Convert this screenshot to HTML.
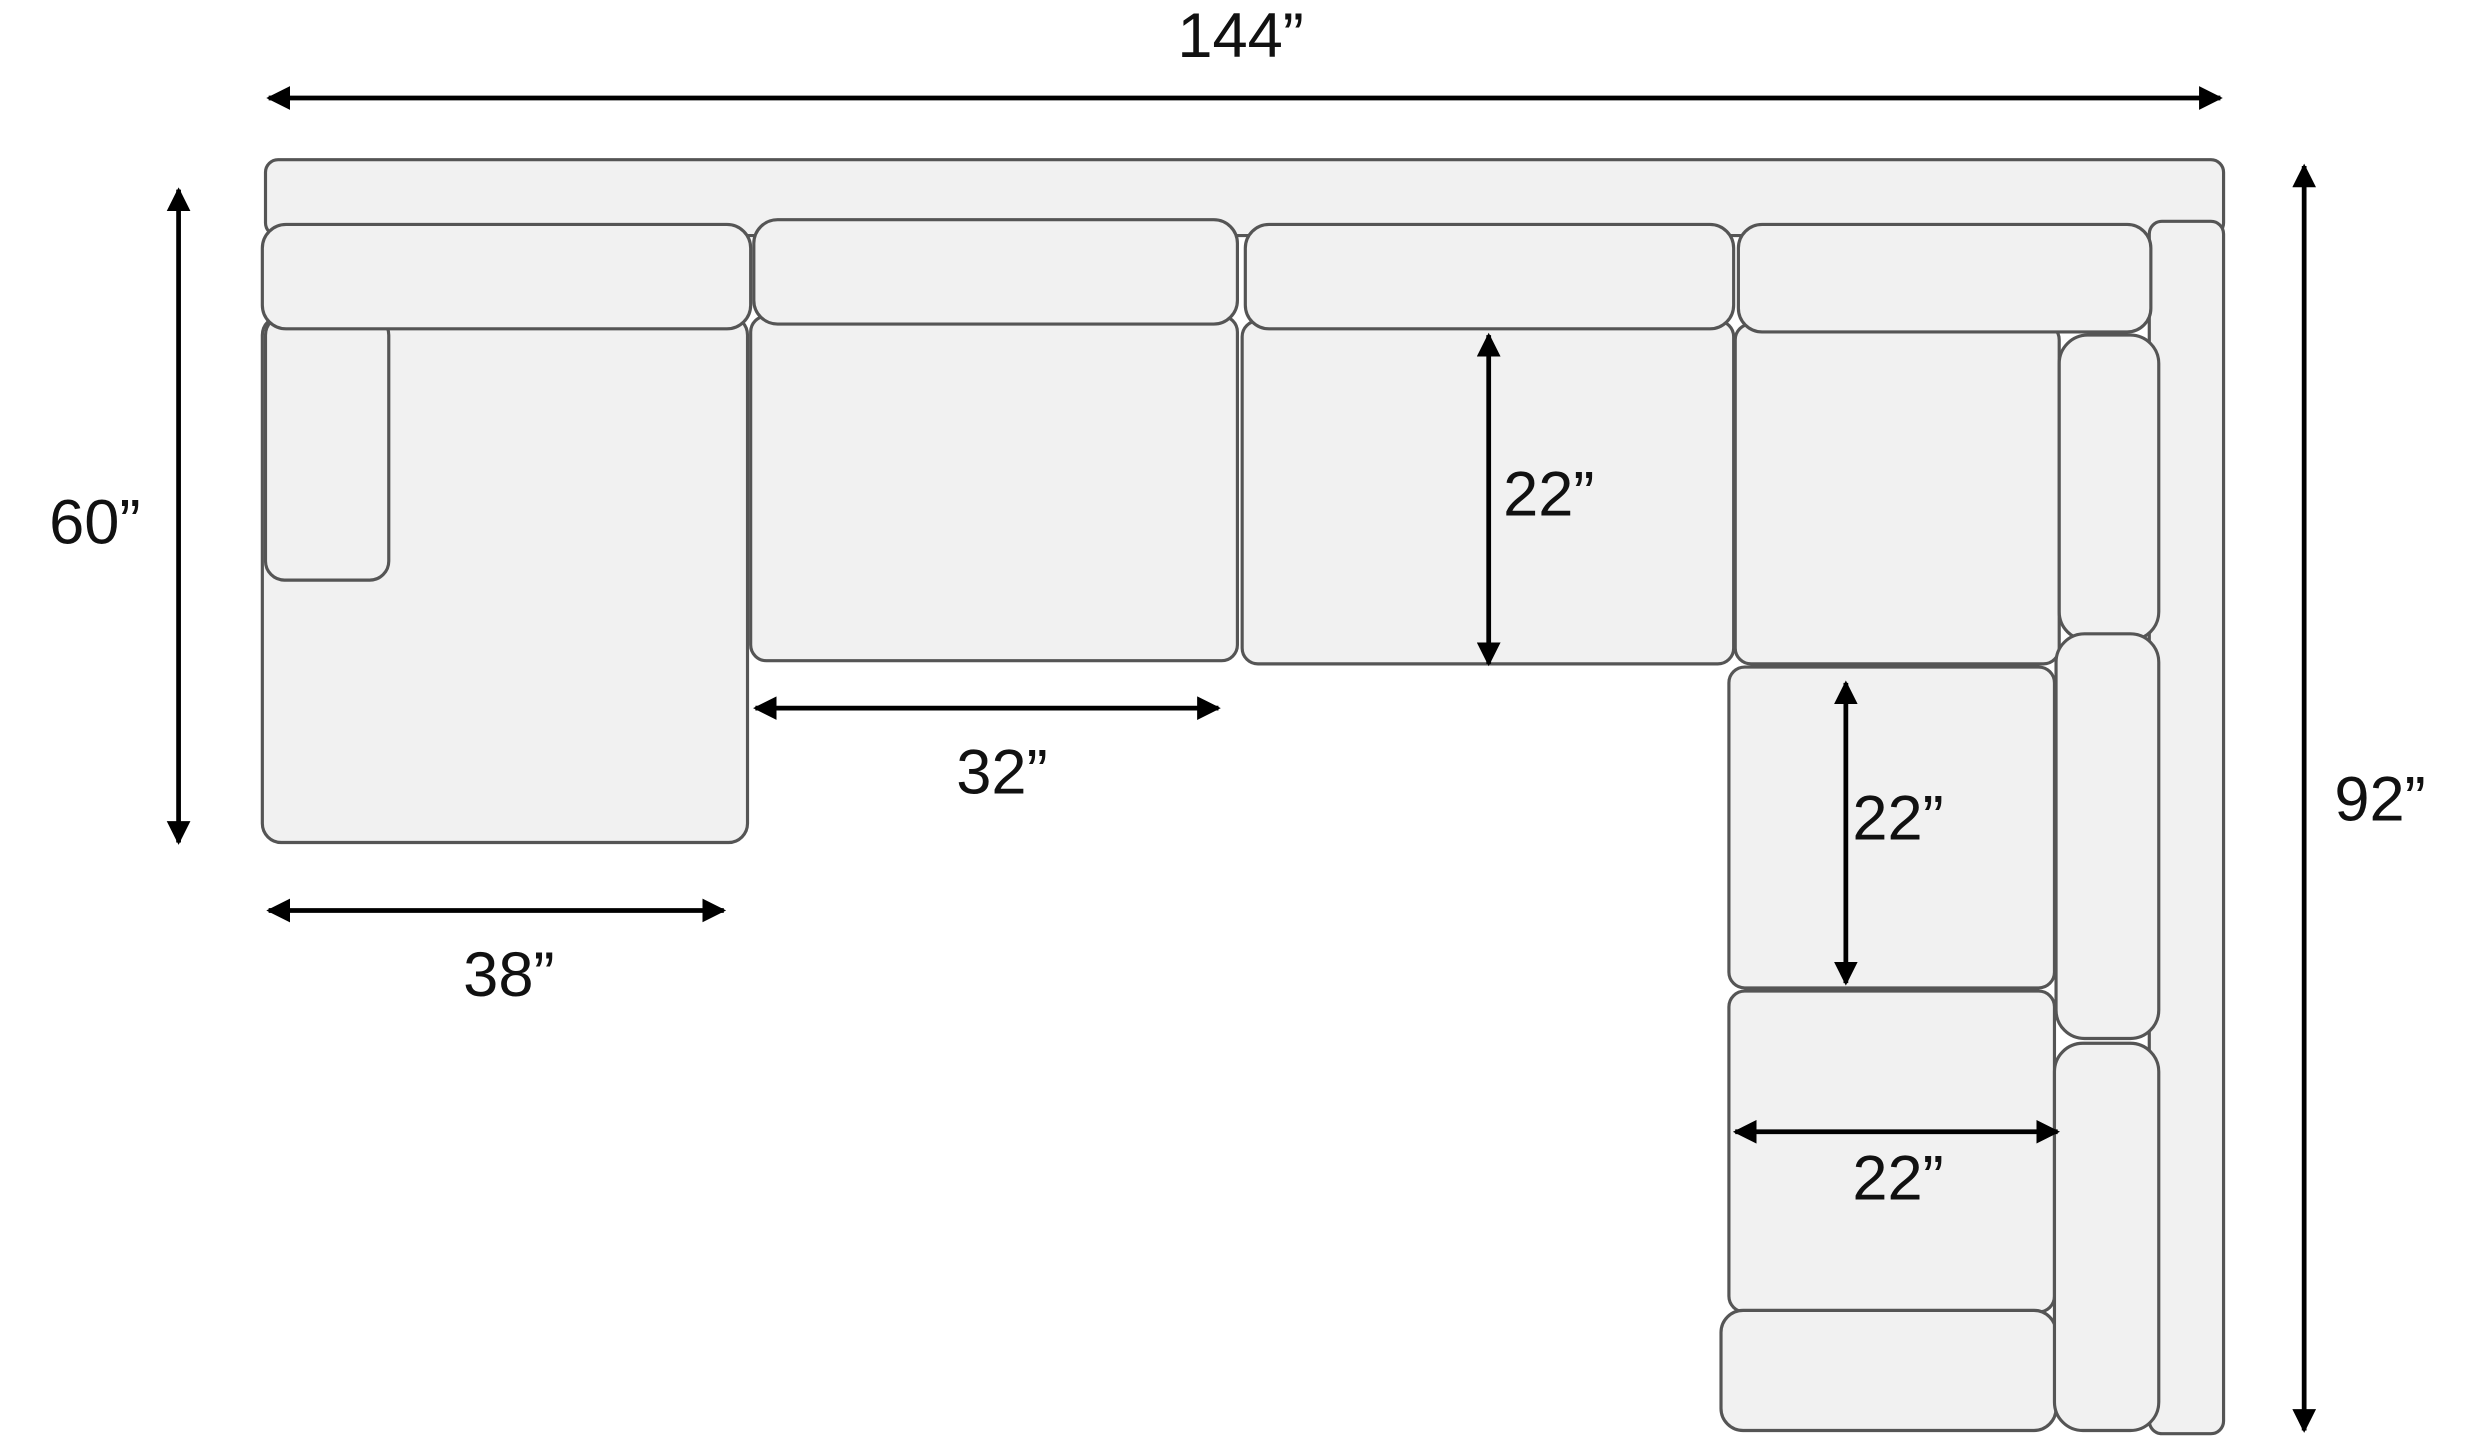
<!DOCTYPE html>
<html><head><meta charset="utf-8"><style>
html,body{margin:0;padding:0;background:#fff;}
svg{display:block;}
text{font-family:"Liberation Sans",sans-serif;font-size:40px;fill:#111;text-anchor:middle;}
</style></head><body>
<svg width="2478" height="1440" viewBox="0 0 1568 911" preserveAspectRatio="none" xmlns="http://www.w3.org/2000/svg">
<defs>
<marker id="a" viewBox="0 0 10 10" refX="9" refY="5" markerWidth="5" markerHeight="5" orient="auto-start-reverse"><path d="M0,0 L10,5 L0,10 z" fill="#000"/></marker>
</defs>
<g fill="#f1f1f1" stroke="#555" stroke-width="2">
<rect x="168" y="101" width="1239" height="48" rx="8"/>
<rect x="1360" y="140" width="47" height="767" rx="8"/>
<rect x="166" y="200" width="307" height="333" rx="12"/>
<rect x="168" y="200" width="78" height="167" rx="12"/>
<rect x="475" y="200" width="308" height="218" rx="10"/>
<rect x="786" y="203" width="311" height="217" rx="10"/>
<rect x="1098" y="205" width="205" height="215" rx="10"/>
<rect x="1094" y="422" width="206" height="203" rx="10"/>
<rect x="1094" y="627" width="206" height="203" rx="10"/>
<rect x="1089" y="829" width="212" height="76" rx="14"/>
<rect x="166" y="142" width="309" height="66" rx="15"/>
<rect x="477" y="139" width="306" height="66" rx="15"/>
<rect x="788" y="142" width="309" height="66" rx="15"/>
<rect x="1100" y="142" width="261" height="68" rx="15"/>
<rect x="1303" y="212" width="63" height="193" rx="18"/>
<rect x="1301" y="401" width="65" height="256" rx="18"/>
<rect x="1300" y="660" width="66" height="245" rx="18"/>
</g>
<g stroke="#000" stroke-width="3" marker-start="url(#a)" marker-end="url(#a)">
<line x1="170" y1="62" x2="1405" y2="62"/>
<line x1="113" y1="120" x2="113" y2="533"/>
<line x1="1458" y1="105" x2="1458" y2="905"/>
<line x1="478" y1="448" x2="771" y2="448"/>
<line x1="170" y1="576" x2="458" y2="576"/>
<line x1="942" y1="212" x2="942" y2="420"/>
<line x1="1168" y1="432" x2="1168" y2="622"/>
<line x1="1098" y1="716" x2="1302" y2="716"/>
</g>
<text x="785" y="36">144”</text>
<text x="60" y="344">60”</text>
<text x="1506" y="519">92”</text>
<text x="634" y="502">32”</text>
<text x="322" y="630">38”</text>
<text x="980" y="326">22”</text>
<text x="1201" y="531">22”</text>
<text x="1201" y="759">22”</text>
</svg>
</body></html>
